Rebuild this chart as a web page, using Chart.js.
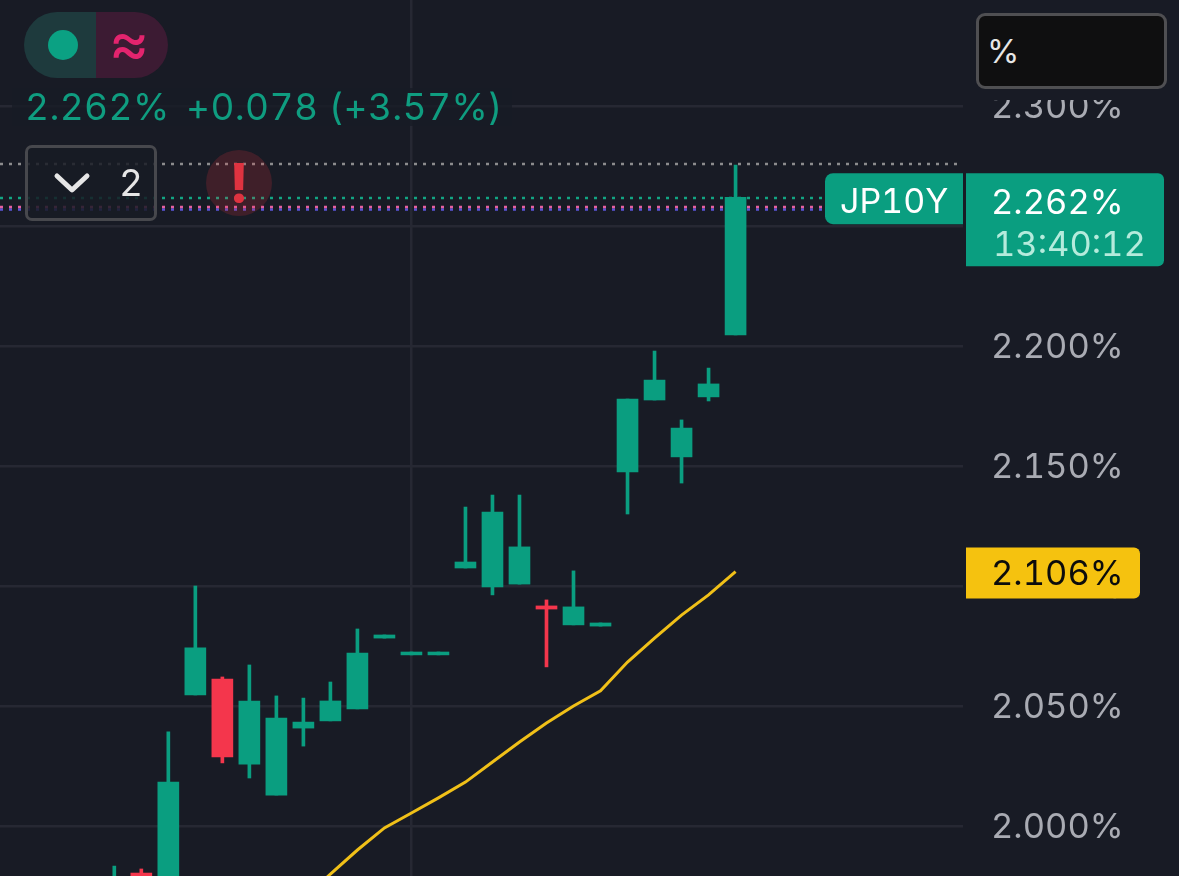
<!DOCTYPE html>
<html>
<head>
<meta charset="utf-8">
<title>JP10Y</title>
<script src="https://cdn.jsdelivr.net/npm/chart.js@4/dist/chart.umd.min.js"></script>
<style>
html, body { margin: 0; padding: 0; background: #181b25; overflow: hidden; }
#wrap { position: relative; width: 1179px; height: 876px; font-family: Inter, sans-serif; font-feature-settings: "tnum"; }
#wrap div, #wrap svg { position: absolute; box-sizing: border-box; }
canvas { display: block; font-feature-settings: "tnum"; }
#pillL { left: 24px; top: 12px; width: 72px; height: 66px; background: #1e3a3d; border-radius: 33px 0 0 33px; }
#pillR { left: 96px; top: 12px; width: 72px; height: 66px; background: #3c1b33; border-radius: 0 33px 33px 0; color: #e3246e; font-size: 62px; font-weight: 400; line-height: 60px; text-align: center; padding-right: 6px; }
#dot { left: 48px; top: 30px; width: 30px; height: 30px; border-radius: 50%; background: #0ba183; }
#legendBg { left: 12px; top: 88px; width: 500px; height: 38px; background: rgba(24,27,37,.8); }
#lastVal, #change { top: 86px; font-size: 37px; line-height: 42px; color: #0f9d80; white-space: nowrap; letter-spacing: .4px; }
#lastVal { left: 25px; }
#change { left: 186px; }
#countBox { left: 25px; top: 145px; width: 132px; height: 76px; background: rgba(24,27,37,.85); border: 3px solid #47484d; border-radius: 7px; }
#countNum { left: 119px; top: 161px; font-size: 37px; line-height: 44px; color: #e6e6e6; }
#alertDot { left: 206px; top: 150px; width: 66px; height: 66px; border-radius: 50%; background: rgba(220,50,60,.2); color: #df3340; font-size: 53px; font-weight: 800; line-height: 66px; text-align: center; }
#axisMask { left: 966px; top: 0; width: 213px; height: 100px; background: #181b25; }
#unitBox { left: 976px; top: 13px; width: 191px; height: 76px; background: #0f0f10; border: 3px solid #4f4f52; border-radius: 9px; color: #e6e6e6; font-size: 33px; line-height: 70px; padding-left: 8px; }
</style>
</head>
<body>
<div id="wrap">
	<canvas id="chart" width="1179" height="876"></canvas>
	<div id="pillL"></div>
	<div id="pillR">≈</div>
	<div id="dot"></div>
	<div id="legendBg"></div>
	<div id="lastVal">2.262%</div>
	<div id="change">+0.078 (+3.57%)</div>
	<div id="countBox"></div>
	<svg style="left:52px;top:168px" width="44" height="30"><polyline points="5,8 20,22 35,8" fill="none" stroke="#e6e6e6" stroke-width="5" stroke-linecap="round" stroke-linejoin="round"/></svg>
	<div id="countNum">2</div>
	<div id="alertDot">!</div>
	<div id="axisMask"></div>
	<div id="unitBox">%</div>
</div>
<script>
// bar index, visible window holds 24 bars
const bars = [0,1,2,3,4,5,6,7,8,9,10,11,12,13,14,15,16,17,18,19,20,21,22,23];

const opens  = [1.955,1.9804,1.960,2.0546,2.0612,2.0258,2.0129,2.0408,2.0438,2.0488,2.0783,2.0713,2.0713,2.1075,2.0996,2.1008,2.0917,2.0838,2.0833,2.1475,2.1775,2.1538,2.1788,2.2046];
const closes = [1.972,1.965,2.0183,2.0742,2.0288,2.0521,2.045,2.0433,2.0521,2.0721,2.0796,2.0725,2.0725,2.110,2.1308,2.1163,2.0904,2.0913,2.0846,2.1779,2.1858,2.1658,2.1842,2.262];
const highs  = [1.9833,1.9821,2.0392,2.100,2.0621,2.0671,2.0542,2.0533,2.060,2.0821,2.0796,2.0725,2.0725,2.1329,2.1379,2.1379,2.0942,2.1063,2.0846,2.1779,2.1979,2.1692,2.1908,2.2754];
const lows   = [1.950,1.960,1.955,2.0546,2.0263,2.020,2.0129,2.0333,2.0438,2.0488,2.0783,2.0713,2.0713,2.1075,2.0963,2.1008,2.0663,2.0838,2.0833,2.130,2.1775,2.1429,2.1771,2.2046];

const emaBars = [7,8,9,10,11,12,13,14,15,16,17,18,19,20,21,22,23];
const ema = [1.9692,1.980,1.990,1.9992,2.0054,2.0117,2.0183,2.0267,2.035,2.0429,2.050,2.0563,2.0683,2.0783,2.0879,2.0963,2.106];

const yTicks = [2.0,2.05,2.1,2.15,2.2,2.25,2.3];
const levelGrey = 2.2758;
const levelGreen = 2.2617;
const levelPink = 2.2579;
const levelBlue = 2.2569;

const yMin = 1.97917, yMax = 2.34417;
const xMin = -4.232, xMax = 31.42;

const UP = '#0a9e80', DOWN = '#f4364c', GRID = '#262833', BG = '#181b25';
const barColors = bars.map(i => closes[i] >= opens[i] ? UP : DOWN);

function levelLine(v, color, endX) {
	return {
		type: 'line',
		data: [{x: xMin, y: v}, {x: endX, y: v}],
		borderColor: color,
		borderWidth: 2.5,
		borderDash: [3, 6],
		pointRadius: 0,
		order: 5
	};
}

function roundTag(ctx, x, y, w, h, radii, color) {
	ctx.fillStyle = color;
	ctx.beginPath();
	ctx.roundRect(x, y, w, h, radii);
	ctx.fill();
}

function tagText(ctx, text, x, y, color, size) {
	ctx.fillStyle = color;
	ctx.font = size + 'px Inter';
	ctx.textAlign = 'left';
	ctx.textBaseline = 'middle';
	ctx.fillText(text, x, y);
}

// price tags follow the y scale
const priceTags = {
	id: 'priceTags',
	afterDraw(chart) {
		const ctx = chart.ctx;
		const yScale = chart.scales.y;
		const lastY = yScale.getPixelForValue(closes[closes.length - 1]);
		const emaY = yScale.getPixelForValue(ema[ema.length - 1]);
		ctx.save();
		roundTag(ctx, 825, lastY - 24, 138, 51, [8, 0, 0, 8], UP);
		tagText(ctx, 'JP10Y', 840, lastY + 6, '#ffffff', 34);
		roundTag(ctx, 966, lastY - 24, 198, 93, [0, 6, 6, 0], UP);
		tagText(ctx, closes[closes.length - 1].toFixed(3) + '%', 991, lastY + 6, '#ffffff', 34.5);
		tagText(ctx, '13:40:12', 993, lastY + 48, '#b5ebdc', 34.5);
		roundTag(ctx, 966, emaY - 24, 174, 51, [0, 6, 6, 0], '#f5c20f');
		tagText(ctx, ema[ema.length - 1].toFixed(3) + '%', 991, emaY + 3, '#0c0c0c', 34.5);
		ctx.restore();
	}
};

const chart = new Chart(document.getElementById('chart').getContext('2d'), {
	type: 'bar',
	data: {
		datasets: [
			{
				label: 'body',
				data: bars.map(i => ({x: i, y: [opens[i], closes[i]]})),
				backgroundColor: barColors,
				barThickness: 21,
				grouped: false,
				order: 1
			},
			{
				label: 'wick',
				data: bars.map(i => ({x: i, y: [lows[i], highs[i]]})),
				backgroundColor: barColors,
				barThickness: 3,
				grouped: false,
				order: 2
			},
			{
				type: 'line',
				label: 'EMA',
				data: emaBars.map((b, i) => ({x: b, y: ema[i]})),
				borderColor: '#f0c018',
				borderWidth: 3,
				pointRadius: 0,
				tension: 0,
				order: 0
			},
			levelLine(levelGrey, '#8c8c8e', 31.2),
			levelLine(levelGreen, '#12a583', xMax),
			levelLine(levelPink, '#e5609f', xMax),
			levelLine(levelBlue, '#5a55d8', xMax)
		]
	},
	options: {
		responsive: false,
		animation: false,
		layout: {padding: 0},
		plugins: {legend: {display: false}, tooltip: {enabled: false}},
		scales: {
			x: {
				type: 'linear',
				min: xMin,
				max: xMax,
				offset: false,
				afterBuildTicks(scale) { scale.ticks = [{value: 11}]; },
				afterFit(scale) { scale.height = 0; scale.paddingLeft = 0; scale.paddingRight = 0; },
				ticks: {display: false},
				border: {display: false},
				grid: {color: GRID, lineWidth: 2.5, drawTicks: false, offset: false}
			},
			y: {
				position: 'right',
				min: yMin,
				max: yMax,
				afterBuildTicks(scale) { scale.ticks = yTicks.map(v => ({value: v})); },
				afterFit(scale) { scale.width = 216; scale.paddingTop = 0; scale.paddingBottom = 0; },
				border: {display: false},
				grid: {color: GRID, lineWidth: 2.5, drawTicks: false},
				ticks: {
					padding: 28,
					color: '#a9abb3',
					font: {family: 'Inter', size: 34.5},
					callback: v => v.toFixed(3) + '%'
				}
			}
		}
	},
	plugins: [priceTags]
});

// axis text sits a little under its grid line
const drawAxisLabels = chart.scales.y.drawLabels;
chart.scales.y.drawLabels = function (area) {
	this.ctx.save();
	this.ctx.translate(0, 2);
	drawAxisLabels.call(this, area);
	this.ctx.restore();
};
chart.draw();
</script>
</body>
</html>
